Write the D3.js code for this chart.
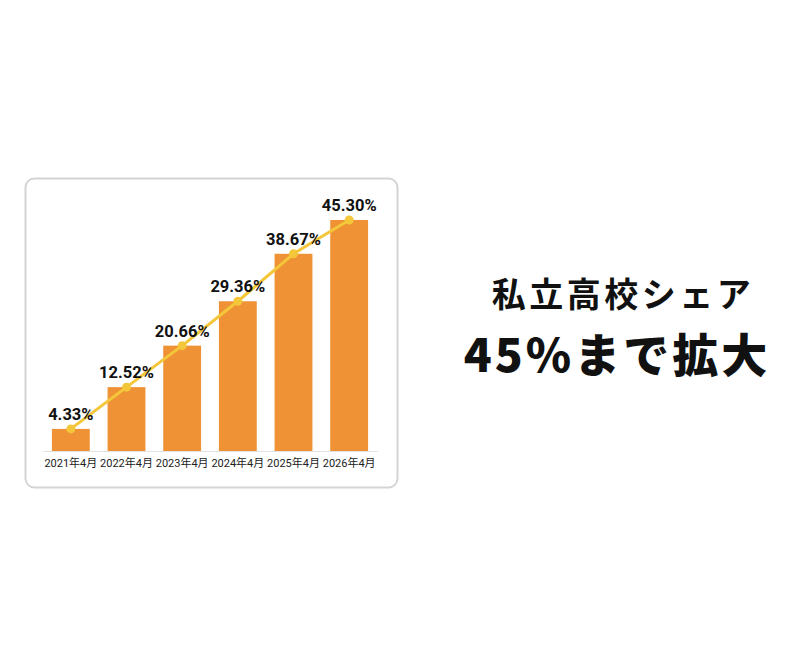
<!DOCTYPE html>
<html><head><meta charset="utf-8">
<script src="https://cdn.jsdelivr.net/npm/d3@7"></script>
<style>
html,body{margin:0;padding:0;background:#fff;}
svg{display:block;}
</style></head>
<body>
<svg id="c" width="800" height="650"></svg>
<script>
const categories = ["2021年4月","2022年4月","2023年4月","2024年4月","2025年4月","2026年4月"];
const shareValues = [4.33, 12.52, 20.66, 29.36, 38.67, 45.30];
const valueLabels = ["4.33%","12.52%","20.66%","29.36%","38.67%","45.30%"];
const titleLines = ["私立高校シェア","45%まで拡大"];

const svg = d3.select("#c");
const FONT = "Roboto, 'Noto Sans CJK JP', sans-serif";

// card frame
svg.append("rect").attr("x",25.5).attr("y",178.5).attr("width",372).attr("height",309)
  .attr("rx",9).attr("fill","#fff").attr("stroke","#d4d4d4").attr("stroke-width",2);

const x = d3.scaleBand().domain(categories).range([43,377]).paddingInner(0.32).paddingOuter(0.16);
const y = d3.scaleLinear().domain([0,50]).range([451,196]);

const g = svg.append("g");
g.selectAll("rect.bar").data(shareValues).join("rect").attr("class","bar")
  .attr("x",(d,i)=>x(categories[i])).attr("width",x.bandwidth())
  .attr("y",d=>y(d)).attr("height",d=>y(0)-y(d)).attr("fill","#ee9235");

// baseline axis
const xAxis = d3.axisBottom(x).tickSize(0).tickPadding(8);
const ax = svg.append("g").attr("transform",`translate(0,${y(0)})`).call(xAxis);
ax.select(".domain").attr("stroke","#e2e2e2").attr("stroke-width",1.2);
ax.selectAll("text").attr("font-family",FONT).attr("font-size",11).attr("fill","#222").attr("font-weight",400);

const cx = (d,i)=>x(categories[i])+x.bandwidth()/2;
const line = d3.line().x(cx).y(d=>y(d));
g.append("path").datum(shareValues).attr("d",line).attr("fill","none")
  .attr("stroke","#f4c63a").attr("stroke-width",3);
g.selectAll("circle").data(shareValues).join("circle")
  .attr("cx",cx).attr("cy",d=>y(d)).attr("r",4.5).attr("fill","#f4c63a");

g.selectAll("text.val").data(shareValues).join("text").attr("class","val")
  .attr("x",cx).attr("y",d=>y(d)-9).attr("text-anchor","middle")
  .attr("font-family",FONT).attr("font-weight",700).attr("font-size",16.5).attr("fill","#111")
  .text((d,i)=>valueLabels[i]);

// headline
svg.append("text").attr("x",623).attr("y",307).attr("text-anchor","middle")
  .attr("font-family","'Noto Sans CJK JP', sans-serif").attr("font-weight",700)
  .attr("font-size",34).attr("letter-spacing",3.5).attr("fill","#111").text(titleLines[0]);
svg.append("text").attr("x",617).attr("y",372).attr("text-anchor","middle")
  .attr("font-family","'Noto Sans CJK JP', sans-serif").attr("font-weight",900)
  .attr("font-size",46).attr("letter-spacing",3).attr("fill","#111").text(titleLines[1]);
</script>
</body></html>
